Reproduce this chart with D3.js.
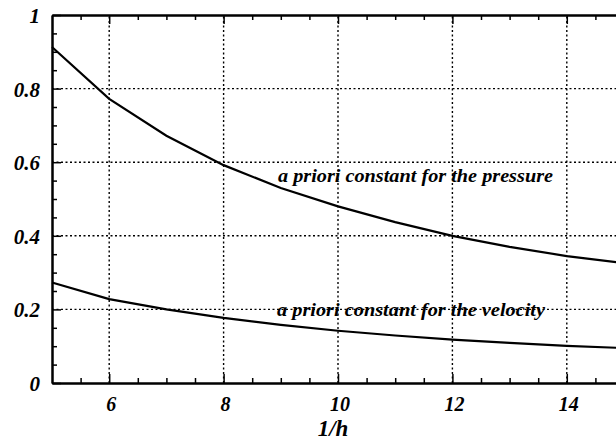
<!DOCTYPE html>
<meta charset="utf-8">
<script src="https://cdn.jsdelivr.net/npm/d3@7"></script>
<style>
  body { margin: 0; background: #fff; }
  text { font-family: "Liberation Serif", "DejaVu Serif", serif; font-weight: bold; font-style: italic; fill: #000; }
  .grid line { stroke: #000; stroke-width: 1.4px; stroke-dasharray: 2,2.5; }
  .curve { fill: none; stroke: #000; stroke-width: 2.2px; }
</style>
<body>
<script>

var invH = [5, 6, 7, 8, 9, 10, 11, 12, 13, 14, 15];
var pressure = [0.913, 0.772, 0.672, 0.592, 0.530, 0.480, 0.437, 0.400, 0.370, 0.345, 0.326];
var velocity = [0.273, 0.228, 0.200, 0.177, 0.158, 0.142, 0.129, 0.118, 0.109, 0.101, 0.095];
var xMajor = [6, 8, 10, 12, 14];
var yMajor = [0, 0.2, 0.4, 0.6, 0.8, 1];
var yLabels = ["0", "0.2", "0.4", "0.6", "0.8", "1"];

var width = 616, height = 441;

var x = d3.scaleLinear().domain([5, 15]).range([52, 624]);
var y = d3.scaleLinear().domain([0, 1]).range([383, 15]);

var svg = d3.select("body").append("svg")
    .attr("width", width)
    .attr("height", height);

// dotted grid
var grid = svg.append("g").attr("class", "grid");
grid.selectAll(".vx").data(xMajor).enter().append("line")
    .attr("x1", function(d) { return x(d); })
    .attr("x2", function(d) { return x(d); })
    .attr("y1", y(0)).attr("y2", y(1));
grid.selectAll(".hy").data(yMajor.slice(1, 5)).enter().append("line")
    .attr("x1", x(5)).attr("x2", x(15))
    .attr("y1", function(d) { return y(d); })
    .attr("y2", function(d) { return y(d); });

// axes with inward ticks
var xMinor = d3.range(5.5, 15, 0.5).filter(function(d) { return d % 2 !== 0; });
var yMinor = d3.range(0.05, 1, 0.05).filter(function(d) { return Math.abs(d * 5 - Math.round(d * 5)) > 1e-6; });

function styleAxis(g) {
  g.selectAll("text").remove();
  g.select(".domain").attr("stroke-width", 2);
  g.selectAll(".tick line").attr("stroke-width", 1.5);
}

svg.append("g").attr("transform", "translate(0," + y(0) + ")")
    .call(d3.axisTop(x).tickValues(xMajor).tickSize(9).tickSizeOuter(0)).call(styleAxis);
svg.append("g").attr("transform", "translate(0," + y(0) + ")")
    .call(d3.axisTop(x).tickValues(xMinor).tickSize(5).tickSizeOuter(0)).call(styleAxis);
svg.append("g").attr("transform", "translate(0," + y(1) + ")")
    .call(d3.axisBottom(x).tickValues(xMajor).tickSize(9).tickSizeOuter(0)).call(styleAxis);
svg.append("g").attr("transform", "translate(0," + y(1) + ")")
    .call(d3.axisBottom(x).tickValues(xMinor).tickSize(5).tickSizeOuter(0)).call(styleAxis);
svg.append("g").attr("transform", "translate(" + x(5) + ",0)")
    .call(d3.axisRight(y).tickValues(yMajor).tickSize(9).tickSizeOuter(0)).call(styleAxis);
svg.append("g").attr("transform", "translate(" + x(5) + ",0)")
    .call(d3.axisRight(y).tickValues(yMinor).tickSize(5).tickSizeOuter(0)).call(styleAxis);

// tick labels
svg.selectAll(".ylab").data(yMajor).enter().append("text")
    .attr("x", 40)
    .attr("y", function(d) { return y(d) + 8; })
    .attr("text-anchor", "end")
    .style("font-size", "21px")
    .text(function(d, i) { return yLabels[i]; });

svg.selectAll(".xlab").data(xMajor).enter().append("text")
    .attr("x", function(d) { return x(d) + 2; })
    .attr("y", 411)
    .attr("text-anchor", "middle")
    .style("font-size", "20px")
    .text(function(d) { return d; });

svg.append("text")
    .attr("x", 333)
    .attr("y", 436)
    .attr("text-anchor", "middle")
    .style("font-size", "23px")
    .text("1/h");

// curves
var line = d3.line()
    .x(function(d, i) { return x(invH[i]); })
    .y(function(d) { return y(d); });

svg.append("path").datum(pressure).attr("class", "curve").attr("d", line);
svg.append("path").datum(velocity).attr("class", "curve").attr("d", line);

// curve labels
svg.append("text")
    .attr("x", 278).attr("y", 182)
    .attr("textLength", 275).attr("lengthAdjust", "spacingAndGlyphs")
    .style("font-size", "19px")
    .text("a priori constant for the pressure");

svg.append("text")
    .attr("x", 277).attr("y", 316)
    .attr("textLength", 268).attr("lengthAdjust", "spacingAndGlyphs")
    .style("font-size", "19px")
    .text("a priori constant for the velocity");

</script>
</body>
